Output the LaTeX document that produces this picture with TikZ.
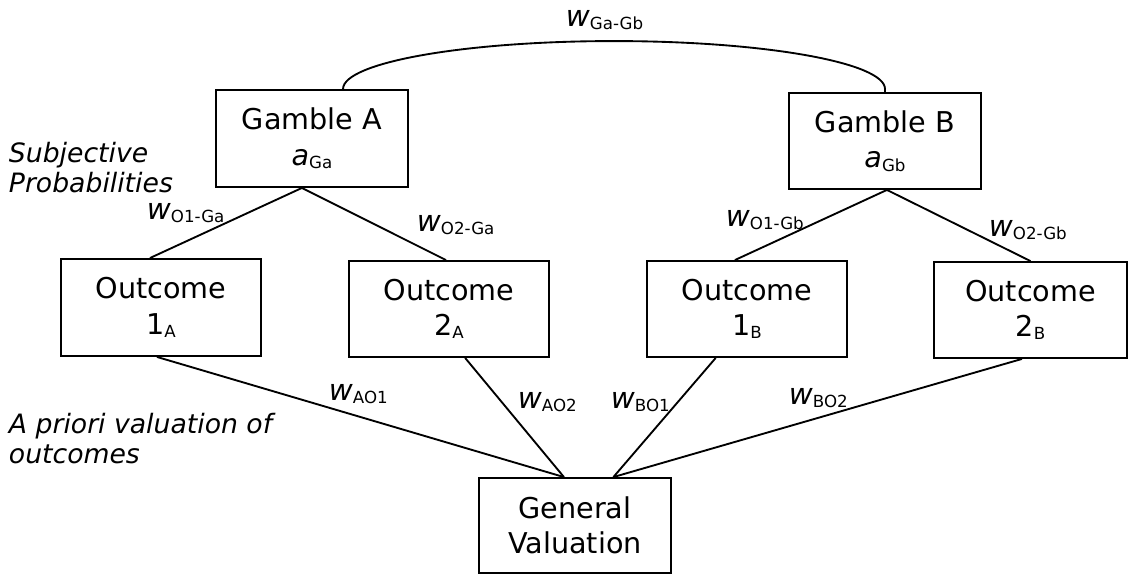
\documentclass[tikz,border=0pt]{standalone}
\usepackage{fontspec}
\setmainfont{DejaVu Sans}
\usetikzlibrary{calc}
\newcommand\subtxt[1]{\raisebox{-2.5pt}{\fontsize{12.5}{13}\selectfont #1}}
\begin{document}
\begin{tikzpicture}[x=0.75pt,y=-0.75pt, line width=1.4pt,
  box/.style={draw, line width=1.4pt, inner sep=0pt, align=center, font=\fontsize{21.5}{26.5}\selectfont},
  wlab/.style={anchor=base west, inner sep=0pt, font=\fontsize{22}{24}\selectfont},
  side/.style={anchor=north west, inner sep=0pt, align=left, font=\fontsize{20}{23}\selectfont\itshape},
  conn/.style={line width=1.4pt}]
\useasboundingbox (0,0) rectangle (1129,575);

% boxes
\node[box, minimum width=144pt, minimum height=72.75pt] (ga) at (312,138.5) {Gamble A\\\textit{a}\subtxt{Ga}};
\node[box, minimum width=144pt, minimum height=72pt] (gb) at (885,141) {Gamble B\\\textit{a}\subtxt{Gb}};
\node[box, minimum width=150pt, minimum height=72.75pt] (o1a) at (161,307.5) {Outcome\\1\subtxt{A}};
\node[box, minimum width=150pt, minimum height=72pt] (o2a) at (449,309) {Outcome\\2\subtxt{A}};
\node[box, minimum width=150pt, minimum height=72pt] (o1b) at (747,309) {Outcome\\1\subtxt{B}};
\node[box, minimum width=144.75pt, minimum height=72pt] (o2b) at (1030.5,310) {Outcome\\2\subtxt{B}};
\node[box, minimum width=144pt, minimum height=71.25pt] (gv) at (575,525.5) {General\\Valuation};

% attachment points
\coordinate (gaS) at ($(ga.south west)!0.448!(ga.south east)$);
\coordinate (gbS) at ($(gb.south west)!0.51!(gb.south east)$);
\coordinate (gaN) at ($(ga.north west)!0.66!(ga.north east)$);
\coordinate (o1aN) at ($(o1a.north west)!0.445!(o1a.north east)$);
\coordinate (o2aN) at ($(o2a.north west)!0.485!(o2a.north east)$);
\coordinate (o1bN) at ($(o1b.north west)!0.44!(o1b.north east)$);
\coordinate (o2bN) at ($(o2b.north west)!0.50!(o2b.north east)$);
\coordinate (o1aS) at ($(o1a.south west)!0.48!(o1a.south east)$);
\coordinate (o2aS) at ($(o2a.south west)!0.58!(o2a.south east)$);
\coordinate (o1bS) at ($(o1b.south west)!0.345!(o1b.south east)$);
\coordinate (o2bS) at ($(o2b.south west)!0.456!(o2b.south east)$);
\coordinate (gvL) at ($(gv.north west)!0.443!(gv.north east)$);
\coordinate (gvR) at ($(gv.north west)!0.698!(gv.north east)$);

% connectors
\draw[conn] (gaN) arc[start angle=180, end angle=0, x radius=203.25pt, y radius=36pt] -- (gb.north);
\draw[conn] (gaS) -- (o1aN);
\draw[conn] (gaS) -- (o2aN);
\draw[conn] (gbS) -- (o1bN);
\draw[conn] (gbS) -- (o2bN);
\draw[conn] (o1aS) -- (gvL);
\draw[conn] (o2aS) -- (gvL);
\draw[conn] (o1bS) -- (gvR);
\draw[conn] (o2bS) -- (gvR);

% connector labels
\node[wlab] (lGaGb) at (565,26) {\textit{w}\subtxt{Ga-Gb}};
\node[wlab] (lO1Ga) at (146,219) {\textit{w}\subtxt{O1-Ga}};
\node[wlab] (lO2Ga) at (416,231) {\textit{w}\subtxt{O2-Ga}};
\node[wlab] (lO1Gb) at (725,226) {\textit{w}\subtxt{O1-Gb}};
\node[wlab] (lO2Gb) at (988,236) {\textit{w}\subtxt{O2-Gb}};
\node[wlab] (lAO1) at (328,400) {\textit{w}\subtxt{AO1}};
\node[wlab] (lAO2) at (517,408) {\textit{w}\subtxt{AO2}};
\node[wlab] (lBO1) at (610,408) {\textit{w}\subtxt{BO1}};
\node[wlab] (lBO2) at (788,404) {\textit{w}\subtxt{BO2}};

% side texts
\node[side] (subj) at (8,141) {Subjective\\Probabilities};
\node[side] (apriori) at (8,412) {A priori valuation of\\outcomes};
\end{tikzpicture}
\end{document}
